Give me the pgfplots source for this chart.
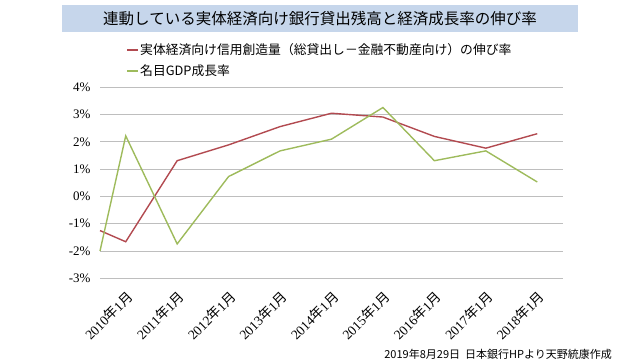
\documentclass[border=0pt]{standalone}
\usepackage{pgfplots}
\pgfplotsset{compat=1.18}
\usepackage{fontspec}
\setmainfont{Liberation Serif}
\newfontfamily\cjk{Noto Sans CJK JP}
\definecolor{redline}{RGB}{178,74,80}
\definecolor{greenline}{RGB}{158,187,92}
\definecolor{titlebg}{RGB}{198,214,235}
\definecolor{gridc}{RGB}{190,190,190}
\newcommand{\yl}[1]{#1{\cjk 年}1{\cjk 月}}
\begin{document}
\begin{tikzpicture}[x=1pt,y=1pt]
\path[use as bounding box] (0,0) rectangle (640,360);
\fill[titlebg] (62,328) rectangle (578,355);
\node[font=\cjk\fontsize{15.5}{16}\selectfont] at (320,341.5) {連動している実体経済向け銀行貸出残高と経済成長率の伸び率};
\draw[redline, line width=1.4pt] (127,310) -- (138,310);
\node[anchor=west, font=\cjk\fontsize{12.8}{14}\selectfont, inner sep=0pt] at (140,310) {実体経済向け信用創造量（総貸出し－金融不動産向け）の伸び率};
\draw[greenline, line width=1.4pt] (127,289) -- (138,289);
\node[anchor=west, font=\cjk\fontsize{12.8}{14}\selectfont, inner sep=0pt] at (140,289) {名目GDP成長率};
\node[anchor=east, font=\cjk\fontsize{11}{12}\selectfont, inner sep=0pt] at (612,6) {2019年8月29日\ \ 日本銀行HPより天野統康作成};
\begin{axis}[
  at={(100pt,81.7pt)}, anchor=south west,
  scale only axis, width=463pt, height=191pt,
  xmin=-0.5, xmax=8.5, ymin=-3, ymax=4,
  ytick={-3,-2,-1,0,1,2,3,4},
  xtick={0,1,2,3,4,5,6,7,8},
  xticklabels={\yl{2010},\yl{2011},\yl{2012},\yl{2013},\yl{2014},\yl{2015},\yl{2016},\yl{2017},\yl{2018}},
  x tick label style={rotate=45, anchor=north east, font=\fontsize{13.5}{14}\selectfont, inner sep=0pt, xshift=-8pt, yshift=-8pt},
  yticklabel={\pgfmathprintnumber{\tick}\%},
  y tick label style={font=\fontsize{13}{14}\selectfont, xshift=-6pt},
  /pgf/number format/assume math mode=true,
  ymajorgrids, grid style={gridc, line width=0.9pt},
  axis line style={draw=none},
  major tick length=0pt,
  clip=false,
]
\addplot[redline, line width=1.4pt] coordinates {(-0.5,-1.25) (0,-1.66) (1,1.31) (2,1.89) (3,2.56) (4,3.05) (5,2.91) (6,2.2) (7,1.77) (8,2.3)};
\addplot[greenline, line width=1.4pt] coordinates {(-0.5,-2.0) (0,2.22) (1,-1.74) (2,0.73) (3,1.67) (4,2.1) (5,3.26) (6,1.31) (7,1.67) (8,0.53)};
\end{axis}
\end{tikzpicture}
\end{document}
